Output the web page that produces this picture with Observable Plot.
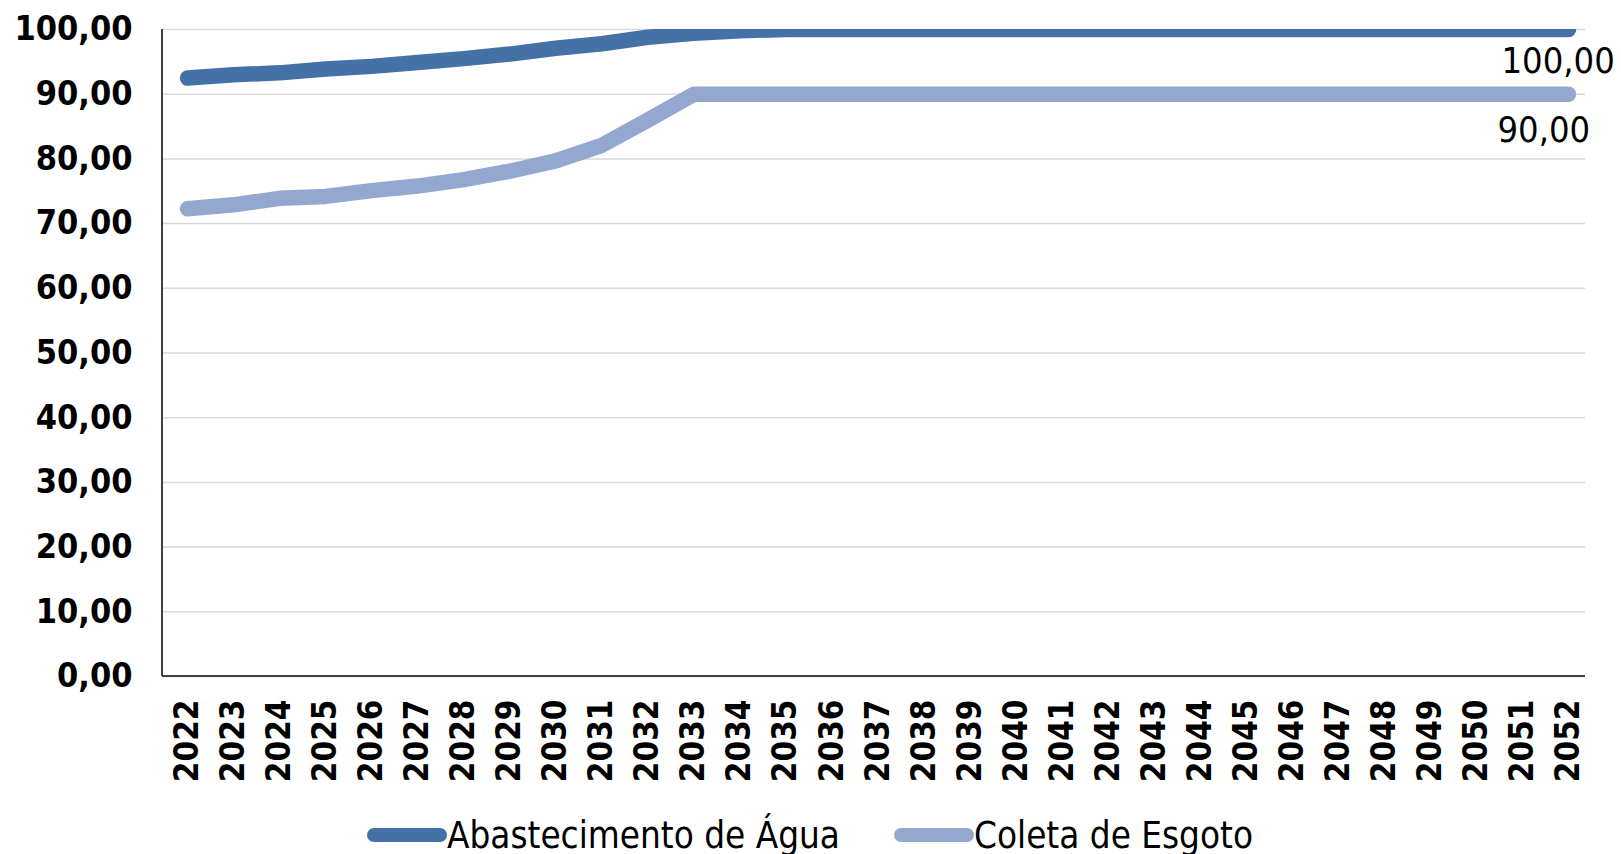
<!DOCTYPE html>
<html>
<head>
<meta charset="utf-8">
<script src="https://cdn.jsdelivr.net/npm/d3@7"></script>
<script src="https://cdn.jsdelivr.net/npm/@observablehq/plot@0.6"></script>
<style>
  html, body { margin: 0; padding: 0; background: #fff; overflow: hidden; }
  #chart svg { display: block; }
  #legend { height: 50px; position: relative;
    font-family: "DejaVu Sans Condensed", "DejaVu Sans", sans-serif; font-size: 36.5px; color: #000; }
  .item { display: flex; align-items: center; position: absolute; white-space: nowrap; }
  .sw { width: 80px; height: 14px; border-radius: 7px; }
</style>
</head>
<body>
<div id="chart"></div>
<div id="legend"></div>
<script>
const years = d3.range(2022, 2053);
const seriesNames = ["Abastecimento de Água", "Coleta de Esgoto"];
const seriesColors = ["#4472a6", "#94a8cf"];
const agua = [92.5, 93.0, 93.3, 93.9, 94.3, 94.9, 95.5, 96.2, 97.1, 97.8, 98.8, 99.4, 99.8,
  100, 100, 100, 100, 100, 100, 100, 100, 100, 100, 100, 100, 100, 100, 100, 100, 100, 100];
const esgoto = [72.3, 72.9, 73.9, 74.2, 75.1, 75.8, 76.8, 78.1, 79.7, 82.1, 86.0, 90.0, 90,
  90, 90, 90, 90, 90, 90, 90, 90, 90, 90, 90, 90, 90, 90, 90, 90, 90, 90];
const yTicks = [0, 10, 20, 30, 40, 50, 60, 70, 80, 90, 100];

const fmt = v => v.toFixed(2).replace(".", ",");
const data = [];
years.forEach((y, i) => {
  data.push({year: String(y), value: agua[i], serie: seriesNames[0]});
  data.push({year: String(y), value: esgoto[i], serie: seriesNames[1]});
});
const lastA = [{year: String(years[years.length - 1]), value: agua[agua.length - 1]}];
const lastE = [{year: String(years[years.length - 1]), value: esgoto[esgoto.length - 1]}];

const W = 1621, H = 810;
const chart = Plot.plot({
  width: W, height: H,
  marginLeft: 162, marginRight: 36, marginTop: 29, marginBottom: H - 676,
  style: {fontFamily: "'DejaVu Sans Condensed', 'DejaVu Sans', sans-serif", background: "#fff", color: "#000"},
  x: {type: "point", domain: years.map(String), padding: 0, round: false, range: [187, 1568], label: null},
  y: {domain: [0, 100], label: null},
  color: {domain: seriesNames, range: seriesColors},
  marks: [
    Plot.gridY(yTicks, {stroke: "#d9d9d9", strokeOpacity: 1, strokeWidth: 1.5}),
    Plot.axisY(yTicks, {tickSize: 0, tickPadding: 30, tickFormat: fmt, fontSize: 34, fontWeight: "bold", label: null}),
    Plot.axisX({tickSize: 0, tickPadding: 23, tickRotate: -90, fontSize: 33, fontWeight: "bold", label: null}),
    Plot.line(data, {x: "year", y: "value", z: "serie", stroke: "serie", strokeWidth: 15.5,
      strokeLinecap: "round", strokeLinejoin: "round", clip: true}),
    Plot.text(lastA, {x: "year", y: "value", text: d => fmt(d.value), textAnchor: "start", dx: -67, dy: 32,
      fontSize: 36, fill: "#000"}),
    Plot.text(lastE, {x: "year", y: "value", text: d => fmt(d.value), textAnchor: "start", dx: -71, dy: 36,
      fontSize: 36, fill: "#000"})
  ]
});
const svg = d3.select(chart);
document.getElementById("chart").appendChild(chart);
const ys = chart.scale("y");
svg.append("line").attr("x1", 162).attr("x2", 162).attr("y1", ys.apply(100)).attr("y2", ys.apply(0))
  .attr("stroke", "#404040").attr("stroke-width", 2);
svg.append("line").attr("x1", 162).attr("x2", W - 36).attr("y1", ys.apply(0)).attr("y2", ys.apply(0))
  .attr("stroke", "#404040").attr("stroke-width", 2);

const legend = document.getElementById("legend");
const lx = [367, 894];
seriesNames.forEach((n, i) => {
  const it = document.createElement("div");
  it.className = "item";
  it.style.left = lx[i] + "px";
  it.style.top = "0px";
  it.style.height = "50px";
  it.innerHTML = `<span class="sw" style="background:${seriesColors[i]}"></span><span>${n}</span>`;
  legend.appendChild(it);
});
</script>
</body>
</html>
